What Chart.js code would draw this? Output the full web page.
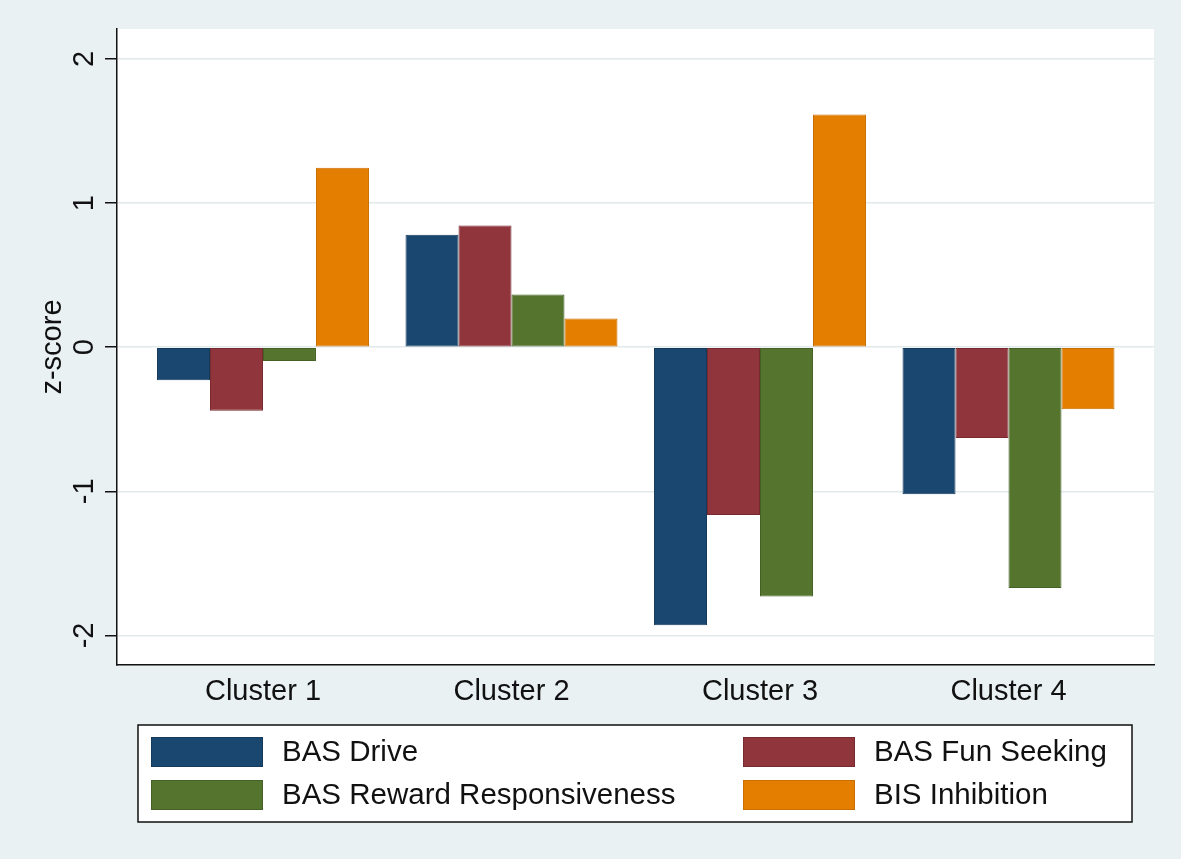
<!DOCTYPE html>
<html>
<head>
<meta charset="utf-8">
<script src="https://cdn.jsdelivr.net/npm/chart.js@4.4.1/dist/chart.umd.min.js"></script>
<style>
  html, body { margin: 0; padding: 0; background: #e9f1f3; }
  #wrap { width: 1181px; height: 859px; position: relative; }
</style>
</head>
<body>
<div id="wrap"><canvas id="zscores" width="1181" height="859"></canvas></div>
<script>
// cluster profiles, z-scores per scale

const categories = ['Cluster 1', 'Cluster 2', 'Cluster 3', 'Cluster 4'];
const seriesLabels = ['BAS Drive', 'BAS Fun Seeking', 'BAS Reward Responsiveness', 'BIS Inhibition'];
const basDrive = [-0.23, 0.78, -1.93, -1.02];
const basFunSeeking = [-0.44, 0.845, -1.165, -0.63];
const basReward = [-0.095, 0.365, -1.73, -1.67];
const bisInhibition = [1.245, 0.20, 1.615, -0.43];
const yTicks = [-2, -1, 0, 1, 2];

const COLORS = ['#1a476f', '#90353b', '#55752f', '#e37e00'];
const EDGES = ['#153a5b', '#772b30', '#466126', '#c96f00'];
const FONT = "'Liberation Sans', Arial, sans-serif";

function toPoints(values) {
  return values.map((v, i) => ({ x: i + 1, y: v }));
}

// white plot region + rotated y labels, Stata style
const plotFrame = {
  id: 'plotFrame',
  beforeDraw(chart) {
    const { ctx, chartArea: a } = chart;
    ctx.save();
    ctx.fillStyle = '#ffffff';
    ctx.fillRect(a.left, a.top, a.right - a.left, a.bottom - a.top);
    ctx.restore();
  },
  afterDraw(chart) {
    const { ctx, chartArea: a } = chart;
    const y = chart.scales.y;
    ctx.save();
    ctx.fillStyle = '#111';
    ctx.font = '29px ' + FONT;
    ctx.textAlign = 'center';
    ctx.textBaseline = 'alphabetic';
    y.ticks.forEach(t => {
      const py = y.getPixelForValue(t.value);
      ctx.save();
      ctx.translate(93, py);
      ctx.rotate(-Math.PI / 2);
      ctx.fillText(String(t.value), 0, 0);
      ctx.restore();
    });
    ctx.save();
    ctx.translate(61, (a.top + a.bottom) / 2);
    ctx.rotate(-Math.PI / 2);
    ctx.fillText('z-score', 0, 0);
    ctx.restore();
    ctx.restore();
  },
};

// two-column framed legend under the plot
const boxLegend = {
  id: 'boxLegend',
  afterDraw(chart) {
    const ctx = chart.ctx;
    const box = { x: 138, y: 725, w: 994, h: 97 };
    ctx.save();
    ctx.fillStyle = '#ffffff';
    ctx.fillRect(box.x, box.y, box.w, box.h);
    ctx.strokeStyle = '#111';
    ctx.lineWidth = 1.5;
    ctx.strokeRect(box.x, box.y, box.w, box.h);
    ctx.font = '29.5px ' + FONT;
    ctx.textAlign = 'left';
    ctx.textBaseline = 'middle';
    const cols = [151, 743];
    const rows = [737, 780];
    chart.data.datasets.forEach((ds, i) => {
      const cx = cols[i % 2];
      const cy = rows[Math.floor(i / 2)];
      ctx.fillStyle = ds.backgroundColor;
      ctx.fillRect(cx, cy, 112, 30);
      ctx.strokeStyle = ds.borderColor;
      ctx.lineWidth = 1;
      ctx.strokeRect(cx + 0.5, cy + 0.5, 111, 29);
      ctx.fillStyle = '#111';
      ctx.fillText(ds.label, cx + 131, cy + 16);
    });
    ctx.restore();
  },
};

const series = [basDrive, basFunSeeking, basReward, bisInhibition];

new Chart(document.getElementById('zscores'), {
  type: 'bar',
  data: {
    datasets: series.map((vals, i) => ({
      label: seriesLabels[i],
      data: toPoints(vals),
      backgroundColor: COLORS[i],
      borderColor: EDGES[i],
      borderWidth: 1,
      borderSkipped: false,
      categoryPercentage: 0.853,
      barPercentage: 1.0,
    })),
  },
  options: {
    responsive: false,
    animation: false,
    layout: { padding: { top: 29, right: 27, bottom: 134, left: 0 } },
    plugins: {
      legend: { display: false },
      tooltip: { enabled: false },
    },
    scales: {
      x: {
        type: 'linear',
        min: 0.4125,
        max: 4.5855,
        offset: false,
        grid: { display: false, drawTicks: false },
        border: { display: true, color: '#111', width: 1.5 },
        afterBuildTicks: axis => { axis.ticks = categories.map((_, i) => ({ value: i + 1 })); },
        afterFit: axis => { axis.height = 60; },
        ticks: {
          color: '#111',
          padding: 10,
          font: { size: 29, family: FONT },
          callback: v => categories[v - 1] || '',
        },
      },
      y: {
        type: 'linear',
        min: -2.205,
        max: 2.208,
        afterBuildTicks: axis => { axis.ticks = yTicks.map(v => ({ value: v })); },
        afterFit: axis => { axis.width = 117; },
        grid: { color: '#e2e9eb', lineWidth: 1.5, drawTicks: true, tickLength: 12, tickColor: '#111', tickWidth: 1.5 },
        border: { display: true, color: '#111', width: 1.5 },
        ticks: { display: false },
      },
    },
  },
  plugins: [plotFrame, boxLegend],
});
</script>
</body>
</html>
